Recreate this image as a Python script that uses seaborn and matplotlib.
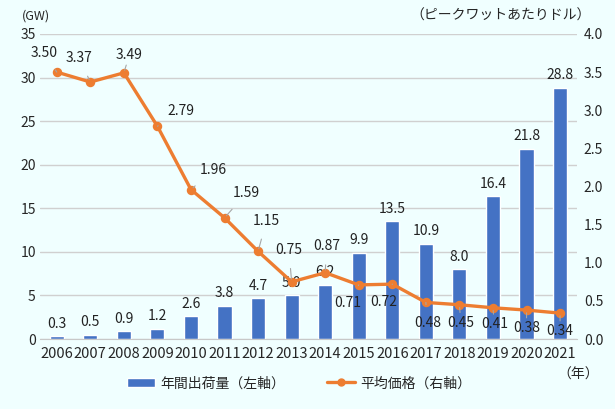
import pandas as pd
import seaborn as sns
import matplotlib.pyplot as plt
from matplotlib.lines import Line2D
from matplotlib.patches import Patch

# chart data
years = ['2006', '2007', '2008', '2009', '2010', '2011', '2012', '2013',
         '2014', '2015', '2016', '2017', '2018', '2019', '2020', '2021']
shipments = [0.3, 0.5, 0.9, 1.2, 2.6, 3.8, 4.7, 5.0,
             6.2, 9.9, 13.5, 10.9, 8.0, 16.4, 21.8, 28.8]
prices = [3.50, 3.37, 3.49, 2.79, 1.96, 1.59, 1.15, 0.75,
          0.87, 0.71, 0.72, 0.48, 0.45, 0.41, 0.38, 0.34]
price_labels = ['3.50', '3.37', '3.49', '2.79', '1.96', '1.59', '1.15', '0.75',
                '0.87', '0.71', '0.72', '0.48', '0.45', '0.41', '0.38', '0.34']

# label offsets for the price labels (points)
price_offsets = [(-9, 14), (-8, 17), (4, 13), (17, 11), (16, 14), (16, 18),
                 (6, 22), (-2, 23), (1, 19), (-8, -13), (-6, -13), (1, -15),
                 (1, -13), (1, -12), (0, -13), (0, -13)]

df = pd.DataFrame({'year': years, 'shipments': shipments, 'price': prices})

sns.set_style('white')
plt.rcParams['font.family'] = ['Noto Sans CJK JP', 'DejaVu Sans']

bg = '#F0FFFF'
blue = '#4472C4'
orange = '#ED7D31'

fig = plt.figure(figsize=(6.15, 4.09), dpi=100, facecolor=bg)
ax = fig.add_axes([0.065, 0.171, 0.873, 0.746])
ax.set_facecolor(bg)

sns.barplot(data=df, x='year', y='shipments', color=blue, width=0.42,
            saturation=1, ax=ax, zorder=2)
ax.set_ylim(0, 35)
ax.set_yticks(range(0, 36, 5))
ax.yaxis.grid(True, color='#D0D0D0', linewidth=1, zorder=0)
ax.set_axisbelow(True)
ax.set_xlabel('')
ax.set_ylabel('')
for s in ['top', 'left', 'right']:
    ax.spines[s].set_visible(False)
ax.spines['bottom'].set_color('#C8C8C8')
ax.tick_params(axis='both', length=0, labelsize=10, pad=3)
ax.tick_params(axis='x', pad=6, labelsize=10.5)

for i, v in enumerate(shipments):
    ax.annotate(f'{v:.1f}', (i, v), xytext=(0, 4), textcoords='offset points',
                ha='center', va='bottom', fontsize=10, color='#222222')

ax2 = ax.twinx()
sns.pointplot(data=df, x='year', y='price', color=orange, markers='o',
              markersize=5, linewidth=2.4, ax=ax2)
ax2.set_ylim(0, 4.0)
ax2.set_yticks([0, 0.5, 1.0, 1.5, 2.0, 2.5, 3.0, 3.5, 4.0])
ax2.set_yticklabels([f'{t:.1f}' for t in ax2.get_yticks()])
ax2.set_ylabel('')
ax2.set_xlabel('')
for s in ['top', 'left', 'right', 'bottom']:
    ax2.spines[s].set_visible(False)
ax2.tick_params(axis='y', length=0, labelsize=10, pad=5)

for i, (v, lab) in enumerate(zip(prices, price_labels)):
    dx, dy = price_offsets[i]
    ax2.annotate(lab, (i, v), xytext=(dx, dy), textcoords='offset points',
                 ha='center', va='center', fontsize=10, color='#222222',
                 arrowprops=dict(arrowstyle='-', color='#A6A6A6', lw=0.8,
                                 shrinkA=6, shrinkB=2))

fig.text(0.036, 0.962, '(GW)', fontsize=9, ha='left', va='center')
fig.text(0.96, 0.962, '（ピークワットあたりドル）', fontsize=10, ha='right', va='center')
fig.text(0.94, 0.083, '（年）', fontsize=10, ha='center', va='center')

handles = [Patch(facecolor=blue, label='年間出荷量（左軸）'),
           Line2D([0], [0], color=orange, marker='o', markersize=5, lw=2.4,
                  label='平均価格（右軸）')]
fig.legend(handles=handles, loc='center', bbox_to_anchor=(0.487, 0.063), ncol=2,
           frameon=False, fontsize=10, columnspacing=3.0, handlelength=2.0,
           handletextpad=0.4)

fig.savefig('out.png', dpi=100, facecolor=bg)
